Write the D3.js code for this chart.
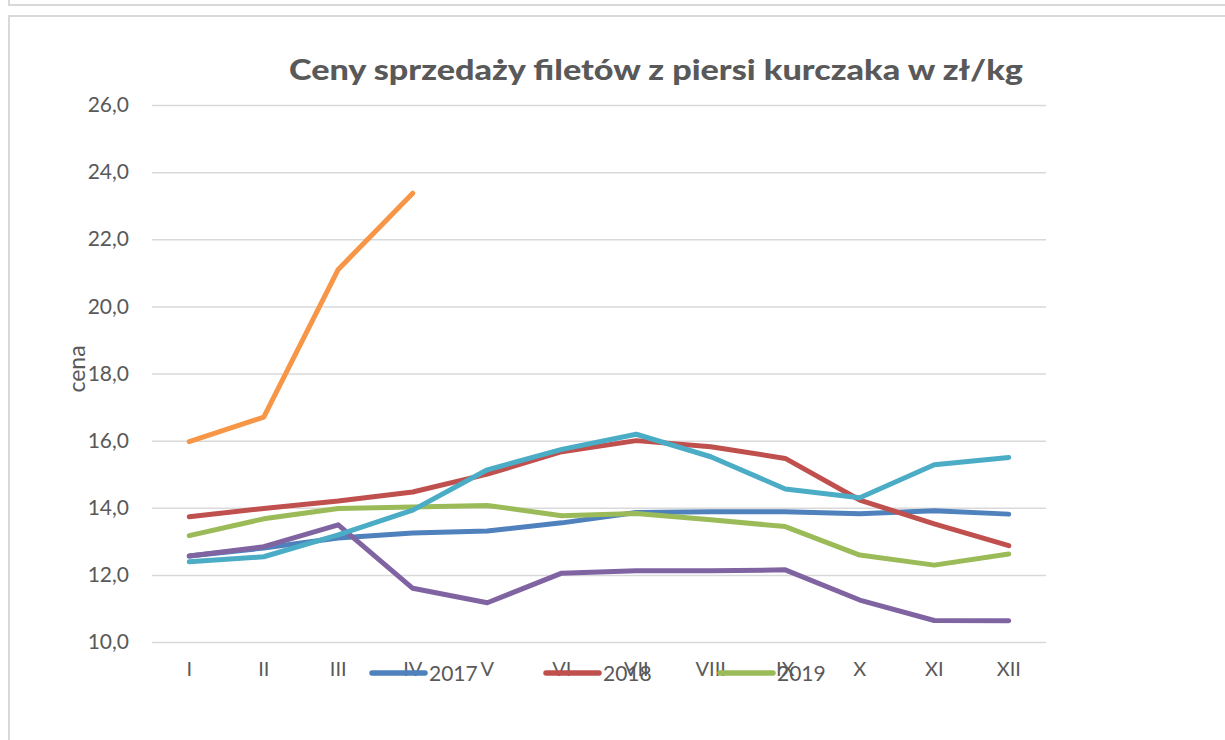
<!DOCTYPE html>
<html><head><meta charset="utf-8">
<script src="https://cdn.jsdelivr.net/npm/d3@7/dist/d3.min.js"></script>
<style>body{margin:0;background:#fff}svg{display:block}</style>
</head><body>
<svg id="c" width="1225" height="740"></svg>
<script>
const months = ["I","II","III","IV","V","VI","VII","VIII","IX","X","XI","XII"];
const yTicks = [10,12,14,16,18,20,22,24,26];
const s2017 = [12.56,12.8,13.1,13.25,13.31,13.55,13.86,13.88,13.88,13.82,13.91,13.81];
const s2018 = [13.73,13.98,14.2,14.47,15.0,15.67,16.0,15.82,15.47,14.23,13.52,12.87];
const s2019 = [13.17,13.67,13.98,14.02,14.07,13.76,13.83,13.64,13.44,12.59,12.29,12.62];
const s2020 = [12.56,12.84,13.49,11.6,11.17,12.05,12.12,12.12,12.15,11.25,10.64,10.63];
const s2021 = [12.39,12.54,13.19,13.93,15.13,15.74,16.19,15.52,14.56,14.3,15.28,15.5];
const s2022 = [15.97,16.7,21.1,23.37];
const seriesNames = ["2017","2018","2019","2020","2021","2022"];
const legendNames = ["2017","2018","2019"];
const colors = ["#4f81bd","#c0504d","#9bbb59","#8064a2","#4bacc6","#f79646"];
const series = [s2017,s2018,s2019,s2020,s2021,s2022];

const FONT = "Lato, 'Open Sans', sans-serif";
const svg = d3.select("#c");
// frames
svg.append("rect").attr("x",9).attr("y",-20).attr("width",1300).attr("height",25)
  .attr("fill","none").attr("stroke","#d9d9d9").attr("stroke-width",2);
svg.append("rect").attr("x",9).attr("y",16).attr("width",1300).attr("height",800)
  .attr("fill","none").attr("stroke","#d9d9d9").attr("stroke-width",2);

const x = d3.scaleBand().domain(months).range([152,1046]);
const y = d3.scaleLinear().domain([10,26]).range([642,105]);

// gridlines
const yAxis = d3.axisLeft(y).tickValues(yTicks).tickSize(-(1046-152)).tickPadding(23)
  .tickFormat(d => d3.format(".1f")(d).replace(".",","));
const gy = svg.append("g").attr("transform","translate(152,0)").call(yAxis);
gy.select(".domain").remove();
gy.selectAll(".tick line").attr("stroke","#d9d9d9").attr("stroke-width",1.5);
gy.selectAll(".tick text").attr("fill","#595959").style("font-family",FONT).style("font-size","21px");

// x labels
const xAxis = d3.axisBottom(x).tickSize(0).tickPadding(0);
const gx = svg.append("g").attr("transform","translate(0,662)").call(xAxis);
gx.select(".domain").remove();
gx.selectAll(".tick text").attr("fill","#595959").style("font-family",FONT).style("font-size","20px");

// lines
const line = d3.line().x((d,i)=>x(months[i])+x.bandwidth()/2).y(d=>y(d));
series.forEach((s,k)=>{
  svg.append("path").datum(s).attr("d",line).attr("fill","none")
    .attr("stroke",colors[k]).attr("stroke-width",5)
    .attr("stroke-linecap","round").attr("stroke-linejoin","round");
});

// title
svg.append("text").attr("x",656).attr("y",80).attr("text-anchor","middle")
  .attr("fill","#595959").style("font-family",FONT)
  .style("font-weight","900").style("font-size","29px")
  .attr("textLength",734).attr("lengthAdjust","spacingAndGlyphs")
  .text("Ceny sprzedaży filetów z piersi kurczaka w zł/kg");

// y title
svg.append("text").attr("transform","translate(85,369) rotate(-90)").attr("text-anchor","middle")
  .attr("fill","#595959").style("font-family",FONT).style("font-size","23px")
  .text("cena");

// legend
const lg = svg.append("g");
legendNames.forEach((n,i)=>{
  const lx = 372 + i*174;
  lg.append("line").attr("x1",lx).attr("x2",lx+53).attr("y1",673).attr("y2",673)
    .attr("stroke",colors[i]).attr("stroke-width",5.5).attr("stroke-linecap","round");
  lg.append("text").attr("x",lx+57).attr("y",681).attr("fill","#595959")
    .style("font-family",FONT).style("font-size","21px").text(n);
});
</script>
</body></html>
